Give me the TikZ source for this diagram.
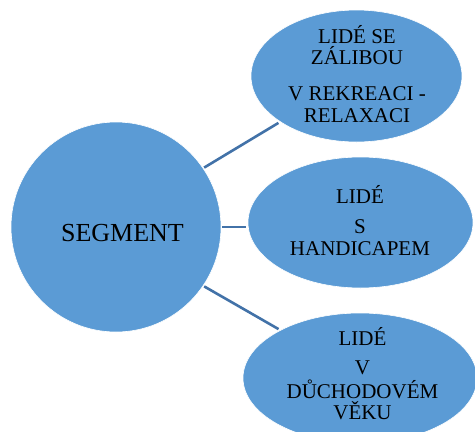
\documentclass[tikz,border=0pt]{standalone}
\usepackage{fontspec}
\setmainfont{Liberation Serif}
\usetikzlibrary{shapes.geometric}
\definecolor{bubble}{HTML}{5B9BD5}
\definecolor{link}{HTML}{4272A8}
\begin{document}
\begin{tikzpicture}[x=1pt,y=-1pt,
  bubbleshape/.style={fill=bubble,draw=white,line width=0.6pt,inner sep=0},
  txt/.style={anchor=base,inner sep=0,font=\fontsize{21}{22}\selectfont},
  bigtxt/.style={anchor=base,inner sep=0,font=\fontsize{26}{28}\selectfont},
  linkline/.style={draw=link,line width=2.6pt,shorten <=1pt,shorten >=2pt}]
\useasboundingbox (0,0) rectangle (475,432);
\begin{scope}
\clip (0,0) rectangle (475,432);
% central circle and the three groups
\node[bubbleshape,circle,minimum size=210pt] (seg) at (116,227) {};
\node[bubbleshape,ellipse,minimum width=211pt,minimum height=132pt] (hobby) at (356.5,76) {};
\node[bubbleshape,ellipse,minimum width=225pt,minimum height=131pt] (handi) at (360.5,222.5) {};
\node[bubbleshape,ellipse,minimum width=234pt,minimum height=130pt] (senior) at (360,378) {};
\end{scope}
% connectors
\draw[linkline] (seg.34) -- (hobby.211);
\draw[linkline] (seg.east) -- (seg.east -| handi.west);
\draw[linkline] (seg.326) -- (senior.149);
% labels
\node[bigtxt] (segtxt) at (122.5,241) {SEGMENT};
\node[txt] (h1) at (357,43) {LIDÉ SE};
\node[txt] (h2) at (357,64) {ZÁLIBOU};
\node[txt] (h3) at (357,100) {V REKREACI -};
\node[txt] (h4) at (357,122) {RELAXACI};
\node[txt] (d1) at (360,203) {LIDÉ};
\node[txt] (d2) at (360,233) {S};
\node[txt] (d3) at (360,255) {HANDICAPEM};
\node[txt] (s1) at (362.5,345) {LIDÉ};
\node[txt] (s2) at (362.5,374) {V};
\node[txt] (s3) at (362.5,398) {DŮCHODOVÉM};
\node[txt] (s4) at (362.5,419) {VĚKU};
\end{tikzpicture}
\end{document}
